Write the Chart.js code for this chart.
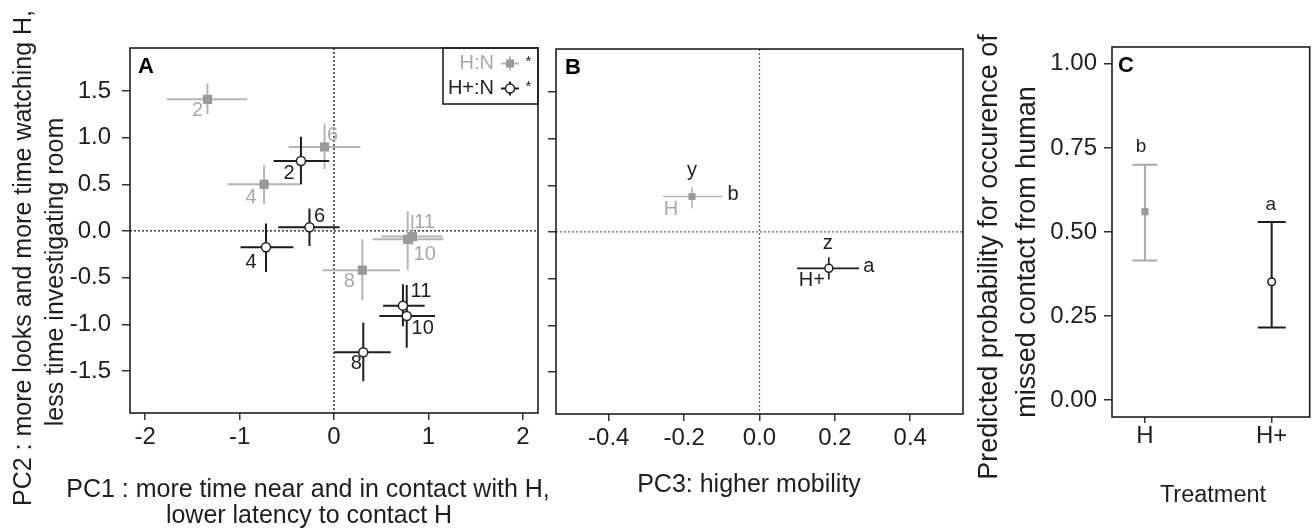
<!DOCTYPE html>
<html>
<head>
<meta charset="utf-8">
<script src="https://cdn.jsdelivr.net/npm/chart.js@4/dist/chart.umd.min.js"></script>
<style>
  html, body { margin: 0; padding: 0; background: #fff; }
  #painel { position: relative; width: 1315px; height: 529px; }
  canvas { position: absolute; left: 0; top: 0; }
</style>
</head>
<body>
<div id="painel">
  <canvas id="graficoA" width="1315" height="529"></canvas>
  <canvas id="graficoB" width="1315" height="529"></canvas>
  <canvas id="graficoC" width="1315" height="529"></canvas>
</div>
<script>
// ---- dados painel A (semanas, PC1 x PC2) ----
const semanas = ['2', '4', '6', '8', '10', '11']

const hnPC1 = [-1.34, -0.74, -0.10, 0.30, 0.78, 0.83]
const hnPC1Min = [-1.77, -1.13, -0.48, -0.12, 0.41, 0.50]
const hnPC1Max = [-0.92, -0.35, 0.28, 0.70, 1.16, 1.15]
const hnPC2 = [1.41, 0.50, 0.90, -0.42, -0.09, -0.06]
const hnPC2Min = [1.25, 0.29, 0.66, -0.74, -0.42, -0.15]
const hnPC2Max = [1.58, 0.71, 1.15, -0.09, 0.21, 0.17]

const hpPC1 = [-0.35, -0.72, -0.26, 0.31, 0.77, 0.73]
const hpPC1Min = [-0.64, -0.99, -0.59, 0.00, 0.48, 0.52]
const hpPC1Max = [-0.05, -0.43, 0.06, 0.60, 1.07, 0.96]
const hpPC2 = [0.75, -0.175, 0.04, -1.30, -0.91, -0.80]
const hpPC2Min = [0.50, -0.44, -0.16, -1.61, -1.25, -1.02]
const hpPC2Max = [1.01, 0.08, 0.24, -0.98, -0.58, -0.57]

// ---- dados painel B (PC3 x PC2 por tratamento) ----
const tratamentos = ['H', 'H+']
const pc3 = [-0.179, 0.184]
const pc3Min = [-0.256, 0.10]
const pc3Max = [-0.10, 0.264]
const pc2B = [0.38, -0.39]
const pc2BMin = [0.255, -0.51]
const pc2BMax = [0.48, -0.27]
const letrasPC3 = ['b', 'a']
const letrasPC2 = ['y', 'z']

// ---- dados painel C (probabilidade de contato perdido) ----
const probContato = [0.56, 0.352]
const probMin = [0.415, 0.216]
const probMax = [0.70, 0.53]
const letrasC = ['b', 'a']

// ticks
const ticksPC1 = [-2, -1, 0, 1, 2]
const ticksPC2 = [-1.5, -1, -0.5, 0, 0.5, 1, 1.5]
const ticksPC3 = [-0.4, -0.2, 0, 0.2, 0.4]
const ticksProb = [0, 0.25, 0.5, 0.75, 1]

const fonte = '"Liberation Sans", Arial, Helvetica, sans-serif'
const cinza = '#a9a9a9'
const preto = '#1e1e1e'

Chart.defaults.font.family = fonte
Chart.defaults.color = preto

// plugin que desenha barras de erro, rotulos, caixa, legenda e titulos
const pluginPainel = {
    id: 'painel',
    beforeDatasetsDraw(chart, args, opts) {
        const ctx = chart.ctx
        const a = chart.chartArea
        const sx = chart.scales.x
        const sy = chart.scales.y
        ctx.save()
        if (opts.zero) {
            ctx.strokeStyle = opts.zero
            ctx.lineWidth = 1.3
            ctx.setLineDash([2, 2])
            const x0 = sx.getPixelForValue(0)
            const y0 = sy.getPixelForValue(0)
            ctx.beginPath()
            ctx.moveTo(x0, a.top)
            ctx.lineTo(x0, a.bottom)
            ctx.moveTo(a.left, y0)
            ctx.lineTo(a.right, y0)
            ctx.stroke()
            ctx.setLineDash([])
        }
        chart.data.datasets.forEach(ds => {
            ctx.strokeStyle = ds.corErro
            ctx.lineWidth = ds.larguraErro
            ds.data.forEach((p, i) => {
                const px = sx.getPixelForValue(p.x)
                const py = sy.getPixelForValue(p.y)
                ctx.beginPath()
                if (ds.xMin) {
                    ctx.moveTo(sx.getPixelForValue(ds.xMin[i]), py)
                    ctx.lineTo(sx.getPixelForValue(ds.xMax[i]), py)
                }
                if (ds.yMin) {
                    const y1 = sy.getPixelForValue(ds.yMin[i])
                    const y2 = sy.getPixelForValue(ds.yMax[i])
                    ctx.moveTo(px, y1)
                    ctx.lineTo(px, y2)
                    if (ds.cap) {
                        ctx.moveTo(px - ds.cap, y1)
                        ctx.lineTo(px + ds.cap, y1)
                        ctx.moveTo(px - ds.cap, y2)
                        ctx.lineTo(px + ds.cap, y2)
                    }
                }
                ctx.stroke()
            })
        })
        ctx.restore()
    },
    afterDatasetsDraw(chart, args, opts) {
        const ctx = chart.ctx
        const a = chart.chartArea
        const sx = chart.scales.x
        const sy = chart.scales.y
        ctx.save()

        // rotulos dos pontos (acima = relativo ao topo da barra de erro)
        chart.data.datasets.forEach(ds => {
            (ds.rotulos || []).forEach(r => {
                ctx.fillStyle = r.cor
                ctx.font = `${r.tamanho}px ${fonte}`
                ctx.textAlign = 'center'
                ctx.textBaseline = 'middle'
                ds.data.forEach((p, i) => {
                    const base = r.acima ? sy.getPixelForValue(ds.yMax[i]) : sy.getPixelForValue(p.y)
                    ctx.fillText(r.texto[i], sx.getPixelForValue(p.x) + r.dx[i], base + r.dy[i])
                })
            })
        })

        // caixa do grafico
        ctx.strokeStyle = preto
        ctx.lineWidth = 1.6
        ctx.strokeRect(a.left, a.top, a.right - a.left, a.bottom - a.top)

        // letra do painel
        if (opts.letra) {
            ctx.font = `bold 22px ${fonte}`
            ctx.fillStyle = '#000'
            ctx.textAlign = 'left'
            ctx.textBaseline = 'alphabetic'
            ctx.fillText(opts.letra, a.left + opts.letraDx, a.top + opts.letraDy)
        }

        // legenda (so no painel A)
        if (opts.legenda) {
            const esq = a.right - 95
            ctx.strokeStyle = preto
            ctx.lineWidth = 1.6
            ctx.strokeRect(esq, a.top, a.right - esq, 56)
            chart.data.datasets.forEach((ds, i) => {
                const y = a.top + 15.5 + i * 25
                ctx.font = `20px ${fonte}`
                ctx.textAlign = 'right'
                ctx.textBaseline = 'middle'
                ctx.fillStyle = ds.rotulos[0].cor
                ctx.fillText(ds.label, a.right - 44, y)
                const mx = a.right - 28
                ctx.strokeStyle = ds.corErro
                ctx.lineWidth = 2
                ctx.beginPath()
                ctx.moveTo(mx - 9, y)
                ctx.lineTo(mx + 9, y)
                ctx.moveTo(mx, y - 7)
                ctx.lineTo(mx, y + 7)
                ctx.stroke()
                if (ds.pointStyle === 'rect') {
                    ctx.fillStyle = ds.backgroundColor
                    ctx.fillRect(mx - 4, y - 4, 8, 8)
                } else {
                    ctx.fillStyle = '#fff'
                    ctx.strokeStyle = ds.borderColor
                    ctx.lineWidth = 1.5
                    ctx.beginPath()
                    ctx.arc(mx, y, 4.5, 0, Math.PI * 2)
                    ctx.fill()
                    ctx.stroke()
                }
                ctx.font = `15px ${fonte}`
                ctx.textAlign = 'center'
                ctx.fillStyle = preto
                ctx.fillText('*', a.right - 9.5, y - 2)
            })
        }

        // titulos dos eixos
        (opts.titulos || []).forEach(t => {
            ctx.save()
            ctx.translate(t.x, t.y)
            if (t.rot) ctx.rotate(-Math.PI / 2)
            ctx.font = `${t.tamanho}px ${fonte}`
            ctx.fillStyle = preto
            ctx.textAlign = 'center'
            ctx.textBaseline = 'alphabetic'
            ctx.fillText(t.texto, 0, 0)
            ctx.restore()
        })
        ctx.restore()
    }
}

function eixo(min, max, lista, formato, extra) {
    return Object.assign({
        type: 'linear',
        min: min,
        max: max,
        afterBuildTicks: s => { s.ticks = lista.map(v => ({ value: v })) },
        ticks: {
            font: { size: 24, lineHeight: 1 },
            color: preto,
            autoSkip: false,
            maxRotation: 0,
            callback: formato
        },
        grid: { drawOnChartArea: false, drawTicks: true, tickLength: 8, color: '#333', lineWidth: 1.5 },
        border: { display: false }
    }, extra)
}

function opcoesBase(padding, escalas, painel) {
    return {
        responsive: false,
        animation: false,
        devicePixelRatio: 1,
        events: [],
        layout: { padding: padding },
        scales: escalas,
        plugins: { legend: { display: false }, tooltip: { enabled: false }, painel: painel }
    }
}

// ---- painel A ----
const deslocHN = [[-10, 11], [-13, 13], [8, -11], [-13, 11], [17, 15], [12, -14]]
const deslocHP = [[-12, 13], [-15, 15], [10, -11], [-7, 11], [16, 13], [18, -14]]

const escalaXA = eixo(-2.16, 2.16, ticksPC1, v => String(v), { afterFit: s => { s.height = 116 } })
escalaXA.ticks.padding = 5
escalaXA.grid.tickLength = 7
const escalaYA = eixo(-1.95, 1.96, ticksPC2, v => v.toFixed(1), { afterFit: s => { s.width = 130 } })
escalaYA.ticks.padding = 11

new Chart(document.getElementById('graficoA'), {
    type: 'scatter',
    data: {
        datasets: [{
            label: 'H:N',
            data: hnPC1.map((x, i) => ({ x: x, y: hnPC2[i] })),
            xMin: hnPC1Min, xMax: hnPC1Max, yMin: hnPC2Min, yMax: hnPC2Max,
            corErro: '#b5b5b5', larguraErro: 2,
            rotulos: [{ texto: semanas, dx: deslocHN.map(d => d[0]), dy: deslocHN.map(d => d[1]), cor: cinza, tamanho: 20 }],
            pointStyle: 'rect', pointRadius: 6.5, pointHoverRadius: 6.5,
            backgroundColor: '#999999', borderColor: '#999999', borderWidth: 0
        }, {
            label: 'H+:N',
            data: hpPC1.map((x, i) => ({ x: x, y: hpPC2[i] })),
            xMin: hpPC1Min, xMax: hpPC1Max, yMin: hpPC2Min, yMax: hpPC2Max,
            corErro: preto, larguraErro: 2,
            rotulos: [{ texto: semanas, dx: deslocHP.map(d => d[0]), dy: deslocHP.map(d => d[1]), cor: preto, tamanho: 20 }],
            pointStyle: 'circle', pointRadius: 4.5, pointHoverRadius: 4.5,
            backgroundColor: '#fff', borderColor: preto, borderWidth: 1.5
        }]
    },
    options: opcoesBase({ left: 0, top: 48, right: 1315 - 538, bottom: 0 }, { x: escalaXA, y: escalaYA }, {
        zero: '#111', letra: 'A', letraDx: 8, letraDy: 25, legenda: true,
        titulos: [
            { texto: 'PC2 : more looks and more time watching H,', x: 31, y: 258, rot: true, tamanho: 25 },
            { texto: 'less time investigating room', x: 63, y: 272, rot: true, tamanho: 25 },
            { texto: 'PC1 : more time near and in contact with H,', x: 308, y: 497, tamanho: 25 },
            { texto: 'lower latency to contact H', x: 309, y: 523, tamanho: 25 }
        ]
    }),
    plugins: [pluginPainel]
})

// ---- painel B ----
const escalaXB = eixo(-0.54, 0.54, ticksPC3, v => v.toFixed(1), { afterFit: s => { s.height = 115 } })
escalaXB.ticks.padding = 5
escalaXB.grid.tickLength = 7
const escalaYB = eixo(-1.95, 1.96, ticksPC2, () => '', { afterFit: s => { s.width = 20 } })

new Chart(document.getElementById('graficoB'), {
    type: 'scatter',
    data: {
        datasets: [{
            label: tratamentos[0],
            data: [{ x: pc3[0], y: pc2B[0] }],
            xMin: [pc3Min[0]], xMax: [pc3Max[0]], yMin: [pc2BMin[0]], yMax: [pc2BMax[0]],
            corErro: '#b5b5b5', larguraErro: 1.6,
            rotulos: [
                { texto: [letrasPC2[0]], dx: [0], dy: [-26], cor: preto, tamanho: 20 },
                { texto: [letrasPC3[0]], dx: [41], dy: [-2], cor: preto, tamanho: 20 },
                { texto: [tratamentos[0]], dx: [-21], dy: [13], cor: cinza, tamanho: 20 }
            ],
            pointStyle: 'rect', pointRadius: 5, pointHoverRadius: 5,
            backgroundColor: '#999999', borderColor: '#999999', borderWidth: 0
        }, {
            label: tratamentos[1],
            data: [{ x: pc3[1], y: pc2B[1] }],
            xMin: [pc3Min[1]], xMax: [pc3Max[1]], yMin: [pc2BMin[1]], yMax: [pc2BMax[1]],
            corErro: preto, larguraErro: 1.6,
            rotulos: [
                { texto: [letrasPC2[1]], dx: [-1], dy: [-25], cor: preto, tamanho: 20 },
                { texto: [letrasPC3[1]], dx: [40], dy: [-2], cor: preto, tamanho: 20 },
                { texto: [tratamentos[1]], dx: [-17], dy: [12], cor: preto, tamanho: 20 }
            ],
            pointStyle: 'circle', pointRadius: 4, pointHoverRadius: 4,
            backgroundColor: '#fff', borderColor: preto, borderWidth: 1.5
        }]
    },
    options: opcoesBase({ left: 536, top: 49, right: 1315 - 963, bottom: 0 }, { x: escalaXB, y: escalaYB }, {
        zero: '#666', letra: 'B', letraDx: 9, letraDy: 25,
        titulos: [
            { texto: 'PC3: higher mobility', x: 749, y: 492, tamanho: 25 }
        ]
    }),
    plugins: [pluginPainel]
})

// ---- painel C ----
const escalaXC = eixo(0.74, 2.30, [1, 2], v => tratamentos[v - 1], { afterFit: s => { s.height = 112 } })
escalaXC.ticks.padding = 1
escalaXC.grid.tickLength = 6
const escalaYC = eixo(-0.05, 1.05, ticksProb, v => v.toFixed(2), { afterFit: s => { s.width = 80 } })
escalaYC.ticks.padding = 7

new Chart(document.getElementById('graficoC'), {
    type: 'scatter',
    data: {
        datasets: [{
            label: tratamentos[0],
            data: [{ x: 1, y: probContato[0] }],
            yMin: [probMin[0]], yMax: [probMax[0]], cap: 12.5,
            corErro: '#aaaaaa', larguraErro: 2,
            rotulos: [{ texto: [letrasC[0]], dx: [-4], dy: [-18], cor: preto, tamanho: 19, acima: true }],
            pointStyle: 'rect', pointRadius: 5, pointHoverRadius: 5,
            backgroundColor: '#999999', borderColor: '#999999', borderWidth: 0
        }, {
            label: tratamentos[1],
            data: [{ x: 2, y: probContato[1] }],
            yMin: [probMin[1]], yMax: [probMax[1]], cap: 14,
            corErro: preto, larguraErro: 2,
            rotulos: [{ texto: [letrasC[1]], dx: [-1], dy: [-17], cor: preto, tamanho: 19, acima: true }],
            pointStyle: 'circle', pointRadius: 3.8, pointHoverRadius: 3.8,
            backgroundColor: '#fff', borderColor: preto, borderWidth: 1.5
        }]
    },
    options: opcoesBase({ left: 1032, top: 47, right: 3, bottom: 0 }, { x: escalaXC, y: escalaYC }, {
        letra: 'C', letraDx: 6, letraDy: 24.5,
        titulos: [
            { texto: 'Predicted probability for occurence of', x: 997, y: 257, rot: true, tamanho: 27 },
            { texto: 'missed contact from human', x: 1035, y: 252, rot: true, tamanho: 27 },
            { texto: 'Treatment', x: 1213, y: 502, tamanho: 23.5 }
        ]
    }),
    plugins: [pluginPainel]
})
</script>
</body>
</html>
